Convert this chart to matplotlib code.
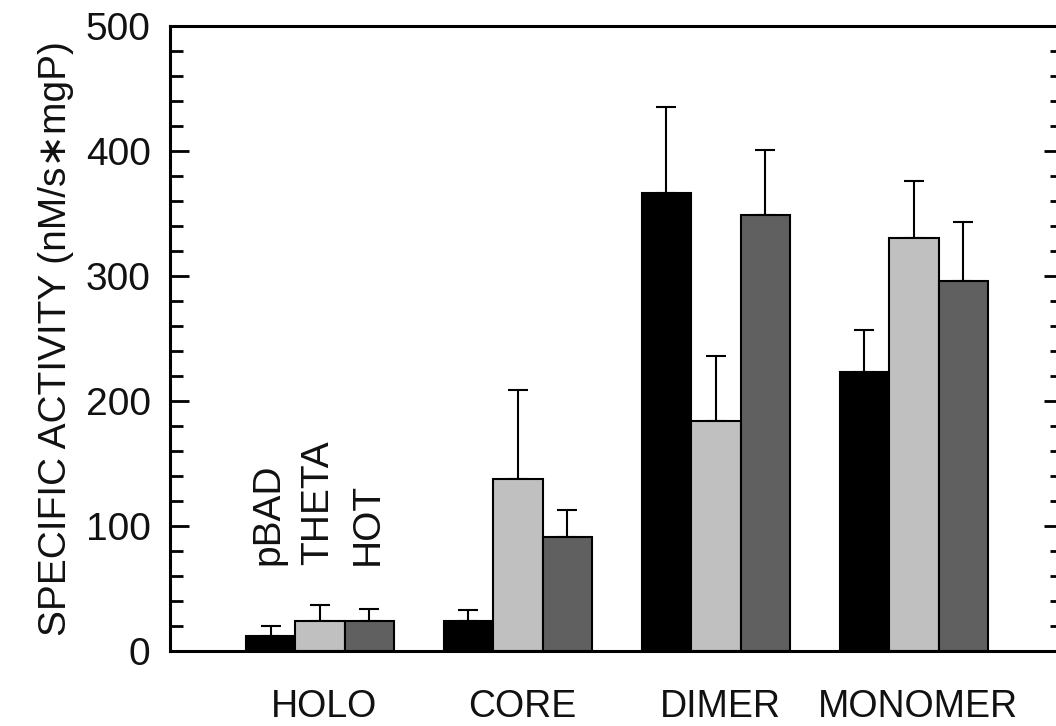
import numpy as np
import matplotlib
matplotlib.use("Agg")
import matplotlib.pyplot as plt
from matplotlib.ticker import MultipleLocator

plt.rcParams['font.family'] = ['Liberation Sans', 'DejaVu Sans']

# data
groups = ["HOLO", "CORE", "DIMER", "MONOMER"]
strains = ["pBAD", "THETA", "HOT"]
pbad = [12, 24, 366, 223]
theta = [24, 138, 184, 330]
hot = [24, 91, 349, 296]
pbad_err = [8, 9, 69, 34]
theta_err = [13, 71, 52, 46]
hot_err = [10, 22, 52, 47]

colors = ["#000000", "#c0c0c0", "#606060"]

fig = plt.figure(figsize=(10.56, 7.26), dpi=100)
ax = fig.add_axes([0.161, 0.1033, 1.0066 - 0.161, 0.9642 - 0.1033])

x = np.arange(1, len(groups) + 1)
w = 0.25
vals = [pbad, theta, hot]
errs = [pbad_err, theta_err, hot_err]
for i in range(3):
    xi = x + (i - 1) * w
    ax.bar(xi, vals[i], w, color=colors[i], edgecolor="black", linewidth=1.5, zorder=2)
    ax.errorbar(xi, vals[i], yerr=[np.zeros(len(groups)), errs[i]], fmt="none",
                ecolor="black", elinewidth=1.5, capsize=7, capthick=1.5, zorder=1)

# strain names above the HOLO bars
for i in range(3):
    ax.text(x[0] + (i - 1) * w - 0.01, 69, strains[i], rotation=90, ha="center",
            va="bottom", fontsize=28, color="#111111")

ax.set_xlim(0.2424, 4.753)
ax.set_ylim(0, 500)
ax.set_xticks(x + 0.02)
ax.set_xticklabels(groups, fontsize=27, color="#111111")
ax.tick_params(axis="x", length=0, pad=27)

ax.yaxis.set_major_locator(MultipleLocator(100))
ax.yaxis.set_minor_locator(MultipleLocator(20))
ax.tick_params(axis="y", which="major", direction="in", length=13.5, width=2,
               labelsize=28, labelcolor="#111111", pad=14, left=True, right=True)
ax.tick_params(axis="y", which="minor", direction="in", length=9.5, width=2,
               left=True, right=True)

for s in ax.spines.values():
    s.set_linewidth(2.2)

ax.set_ylabel("SPECIFIC ACTIVITY (nM/s\u2217mgP)", fontsize=28, labelpad=8,
              color="#111111")

plt.savefig("out.png", dpi=100)
